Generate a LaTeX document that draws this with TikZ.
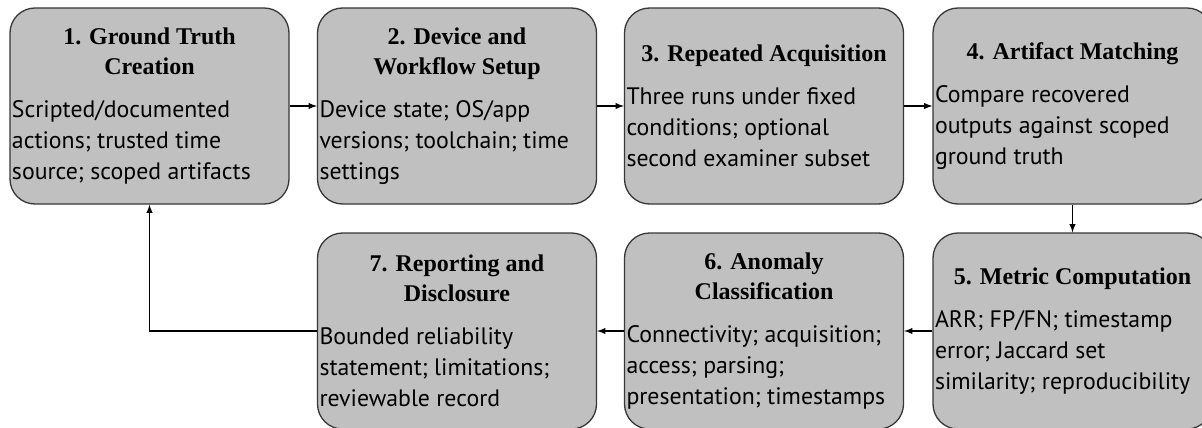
\documentclass[tikz,border=0pt]{standalone}
\usepackage{fontspec}
\setmainfont{PT Sans}
\newfontfamily\headfont{Liberation Serif}
\usepackage{xcolor}
\usepackage{tikz}
\usetikzlibrary{arrows}
\definecolor{boxgray}{RGB}{192,192,192}
\definecolor{edgegray}{RGB}{55,55,55}
\def\stage#1#2{\parbox{275pt}{\centering
	{\fontsize{24}{30}\selectfont\headfont\bfseries #1\par}\vspace{12pt}
	\raggedright\fontsize{23.8}{31}\selectfont #2\par}}

\begin{document}
\begin{tikzpicture}[x=1pt,y=-1pt,
	stagebox/.style={draw=edgegray,fill=boxgray,rounded corners=25pt,line width=1.3pt,
		minimum width=279pt,minimum height=196pt,inner sep=2pt},
	flow/.style={-latex,line width=1.8pt}]
					\fill[white] (0,0) rectangle (1202,428);
					\useasboundingbox (0,0) rectangle (1202,428);
					\node[stagebox] (s1) at (149.5,106) {\stage{1. Ground Truth\\Creation}{Scripted/documented\\actions; trusted time\\source; scoped artifacts}};
					\node[stagebox] (s2) at (457,106) {\stage{2. Device and\\Workflow Setup}{Device state; OS/app\\versions; toolchain; time\\settings}};
					\node[stagebox] (s3) at (764,106) {\stage{3. Repeated Acquisition}{Three runs under fixed\\conditions; optional\\second examiner subset}};
					\node[stagebox] (s4) at (1072.5,106) {\stage{4. Artifact Matching}{Compare recovered\\outputs against scoped\\ground truth}};
					\node[stagebox] (s5) at (1072.5,331) {\stage{5. Metric Computation}{ARR; FP/FN; timestamp\\error; Jaccard set\\similarity; reproducibility}};
					\node[stagebox] (s6) at (764,331) {\stage{6. Anomaly\\Classification}{Connectivity; acquisition;\\access; parsing;\\presentation; timestamps}};
					\node[stagebox] (s7) at (457,331) {\stage{7. Reporting and\\Disclosure}{Bounded reliability\\statement; limitations;\\reviewable record}};
					\draw[flow] (s1)--(s2);
					\draw[flow] (s2)--(s3);
					\draw[flow] (s3)--(s4);
					\draw[flow] (s4)--(s5);
					\draw[flow] (s5)--(s6);
					\draw[flow] (s6)--(s7);
					\draw[flow] (s7.west)-|(s1.south);
				\end{tikzpicture}
\end{document}
